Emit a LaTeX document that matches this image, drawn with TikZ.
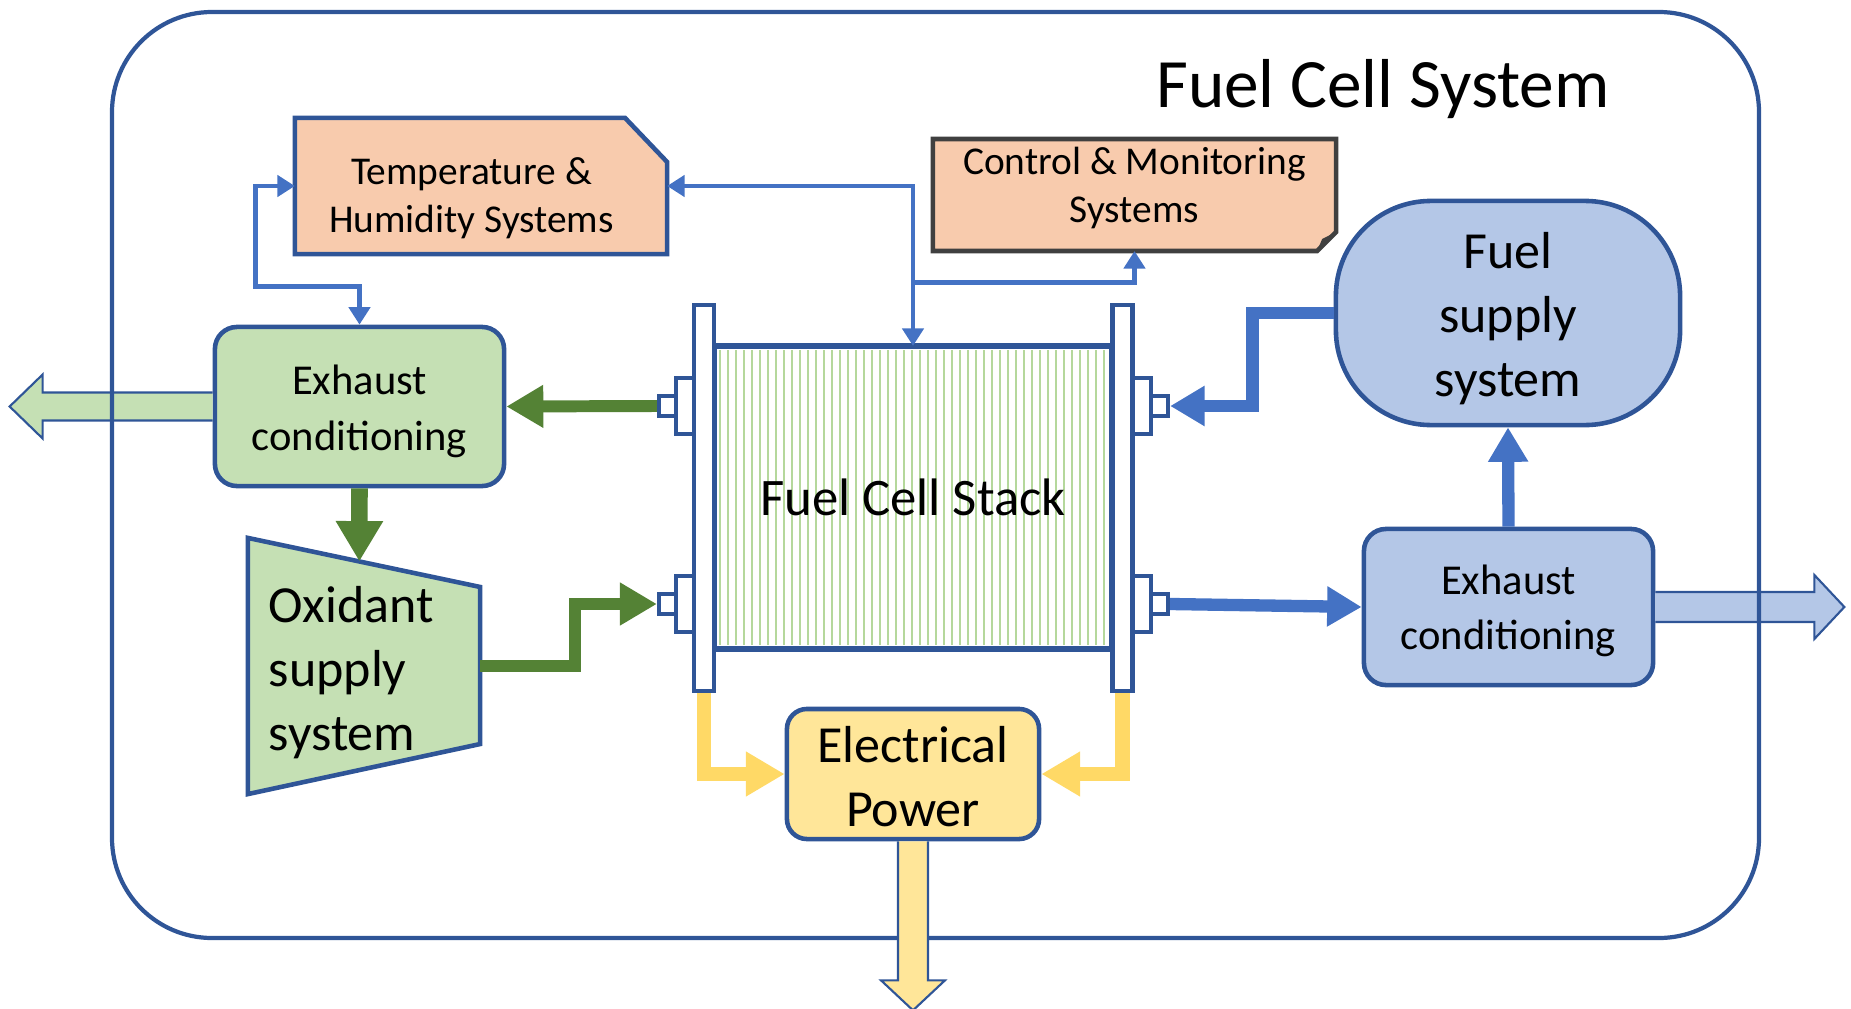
\documentclass[tikz,border=0pt]{standalone}
\usepackage{fontspec}
\setmainfont{Carlito}
\usetikzlibrary{positioning}
\usetikzlibrary{arrows.meta, calc}

\definecolor{lineblue}{HTML}{2F5597}
\definecolor{flowblue}{HTML}{4472C4}
\definecolor{flowgreen}{HTML}{548235}
\definecolor{palegreen}{HTML}{C5E0B4}
\definecolor{paleblue}{HTML}{B4C7E7}
\definecolor{peach}{HTML}{F8CBAD}
\definecolor{flowyellow}{HTML}{FFD966}
\definecolor{paleyellow}{HTML}{FFE699}
\definecolor{stripegreen}{HTML}{B5D89C}
\definecolor{notegray}{HTML}{404040}

\begin{document}
\begin{tikzpicture}[x=0.01cm, y=-0.01cm]
    \tikzstyle{ghost} = [inner sep=0pt, outer sep=0pt]
    \tikzstyle{box} = [draw=lineblue, line width=1.3pt, inner sep=0pt, align=center]
    \tikzstyle{midtext} = [font=\fontsize{12.1}{15.8}\selectfont, align=center]
    \tikzstyle{bigtext} = [font=\fontsize{14.8}{18.2}\selectfont, align=center]
    \tikzstyle{smalltext} = [font=\fontsize{11.2}{13.7}\selectfont, align=center]
    \tikzstyle{plate} = [draw=lineblue, fill=white, line width=1.2pt, inner sep=0pt, minimum width=0.2cm, minimum height=3.86cm]
    \tikzstyle{stubout} = [draw=lineblue, fill=white, line width=1.2pt, inner sep=0pt, minimum width=0.18cm, minimum height=0.56cm]
    \tikzstyle{stubin} = [draw=lineblue, fill=white, line width=1.2pt, inner sep=0pt, minimum width=0.17cm, minimum height=0.2cm]
    \tikzstyle{greenflow} = [draw=flowgreen, line width=3.4pt, -{Triangle[length=10.5pt, width=11.5pt]}]
    \tikzstyle{blueflow} = [draw=flowblue, line width=3.5pt, -{Triangle[length=9.8pt, width=10.8pt]}]
    \tikzstyle{thinflow} = [draw=flowblue, line width=1.4pt, -{Triangle[length=5pt, width=6pt]}]
    \tikzstyle{yellowflow} = [draw=flowyellow, line width=4pt, -{Triangle[length=11pt, width=12pt]}]
    \tikzstyle{outarrow} = [draw=lineblue, line width=0.6pt]

    \useasboundingbox (0,0) rectangle (1851,1009);

    % side boxes
    \node[box, fill=palegreen, rounded corners=0.22cm, minimum width=2.89cm, minimum height=1.59cm] (exhL) at (359.5,406.5) {};
    \node[midtext] (exhLlabel) at (359.5,411.5) {Exhaust\\conditioning};
    \node[box, fill=paleblue, rounded corners=0.22cm, minimum width=2.89cm, minimum height=1.56cm] (exhR) at (1508.5,607) {};
    \node[midtext] (exhRlabel) at (1508.5,611) {Exhaust\\conditioning};
    \node[box, fill=paleblue, rounded corners=0.95cm, minimum width=3.44cm, minimum height=2.24cm] (fuel) at (1508,313) {};
    \node[bigtext] (fuellabel) at (1508,319) {Fuel\\supply\\system};
    \node[box, fill=paleyellow, rounded corners=0.2cm, minimum width=2.52cm, minimum height=1.30cm] (power) at (913,774) {};
    \node[bigtext] (powerlabel) at (913,776.5) {Electrical\\Power};

    % exhaust outlets
    \draw[outarrow, fill=palegreen] ($(exhL.west)+(0,-14)$) -- ++(-170,0) -- ++(0,-18) -- ++(-33,32) -- ++(33,32) -- ++(0,-18) -- ++(170,0);
    \draw[outarrow, fill=paleblue] ($(exhR.east)+(0,-15)$) -- ++(159,0) -- ++(0,-17) -- ++(30,32) -- ++(-30,32) -- ++(0,-17) -- ++(-159,0);

    % system frame
    \draw[draw=lineblue, line width=1.2pt, rounded corners=1cm] (112,12) rectangle (1759,938);
    \node[font=\fontsize{19.7}{23}\selectfont] (title) at (1383,89) {Fuel Cell System};

    % power outlet
    \draw[outarrow, fill=paleyellow] ($(power.south)+(-15,0)$) -- ++(0,139) -- ++(-17,0) -- ++(32,30) -- ++(32,-30) -- ++(-17,0) -- ++(0,-139);

    % temperature and control boxes
    \node[ghost, minimum width=3.72cm, minimum height=1.36cm] (temp) at (481,186) {};
    \draw[box, fill=peach] (temp.south west) -- (temp.north west) -- ([xshift=-0.42cm]temp.north east) -- ([yshift=-0.44cm]temp.north east) -- (temp.south east) -- cycle;
    \node[smalltext] (templabel) at (471.5,198) {Temperature \&\\Humidity Systems};

    \node[ghost, minimum width=4.03cm, minimum height=1.12cm] (ctrl) at (1134.5,195) {};
    \draw[draw=notegray, fill=peach, line width=1.3pt] (ctrl.north west) -- (ctrl.north east) -- ([yshift=0.19cm]ctrl.south east) -- ([xshift=-0.19cm]ctrl.south east) -- (ctrl.south west) -- cycle;
    \fill[notegray] ([yshift=0.19cm]ctrl.south east) -- ([xshift=-0.14cm,yshift=0.12cm]ctrl.south east) -- ([xshift=-0.19cm]ctrl.south east) -- cycle;
    \node[smalltext] (ctrllabel) at (1134.5,188) {Control \& Monitoring\\Systems};

    % oxidant supply
    \node[ghost, minimum width=2.32cm, minimum height=2.56cm] (oxi) at (364,666) {};
    \draw[box, fill=palegreen] (oxi.north west) -- ([yshift=-0.49cm]oxi.north east) -- ([yshift=0.5cm]oxi.south east) -- (oxi.south west) -- cycle;
    \node[bigtext, anchor=west, align=left, inner sep=0pt] (oxilabel) at (268,673) {Oxidant\\supply\\system};
    \coordinate (oxtop) at ($(oxi.north west)!0.48!([yshift=-0.49cm]oxi.north east)$);

    % stack
    \node[ghost, fill=white, minimum width=3.98cm, minimum height=3.03cm] (stack) at (913,497.5) {};
    \foreach \x in {720,728,...,1106}
        \draw[stripegreen, line width=0.8pt] (\x,350) -- (\x,645);
    \draw[draw=lineblue, line width=1.5pt] (stack.south west) rectangle (stack.north east);
    \node[font=\fontsize{15}{18}\selectfont] (stacklabel) at (stack.center) {Fuel Cell Stack};

    \node[plate] (plL) at (704,498) {};
    \node[plate] (plR) at (1122.5,498) {};
    \node[stubout] (oLU) at (685,406) {};
    \node[stubin] (sLU) at (667.5,406) {};
    \node[stubout] (oLL) at (685,604) {};
    \node[stubin] (sLL) at (667.5,604) {};
    \node[stubout] (oRU) at (1142,406) {};
    \node[stubin] (sRU) at (1159.5,406) {};
    \node[stubout] (oRL) at (1142,604) {};
    \node[stubin] (sRL) at (1159.5,604) {};

    % flows
    \draw[greenflow] (sLU.west) -- (exhL.east);
    \draw[greenflow, line width=4.7pt, -{Triangle[length=11.5pt, width=12.7pt]}] (exhL.south) -- (oxtop);
    \draw[greenflow] (oxi.east) -- ++(95,0) |- (sLL.west);

    \draw[blueflow] (fuel.west) -- ++(-81,0) |- (sRU.east);
    \draw[blueflow] (sRL.east) -- (exhR.west);
    \draw[blueflow] (exhR.north) -- (fuel.south);

    \coordinate (tap) at ($(stack.north)+(0,-63)$);
    \draw[thinflow, {Triangle[length=5pt, width=6pt]}-{Triangle[length=5pt, width=6pt]}] (temp.east) -| (stack.north);
    \draw[thinflow] (tap) -| (ctrl.south);
    \draw[thinflow, {Triangle[length=5pt, width=6pt]}-{Triangle[length=5pt, width=6pt]}] (temp.west) -- ++(-39,0) |- ($(exhL.north)+(0,-38)$) -- (exhL.north);

    \draw[yellowflow] (plL.south) |- (power.west);
    \draw[yellowflow] (plR.south) |- (power.east);
\end{tikzpicture}
\end{document}
